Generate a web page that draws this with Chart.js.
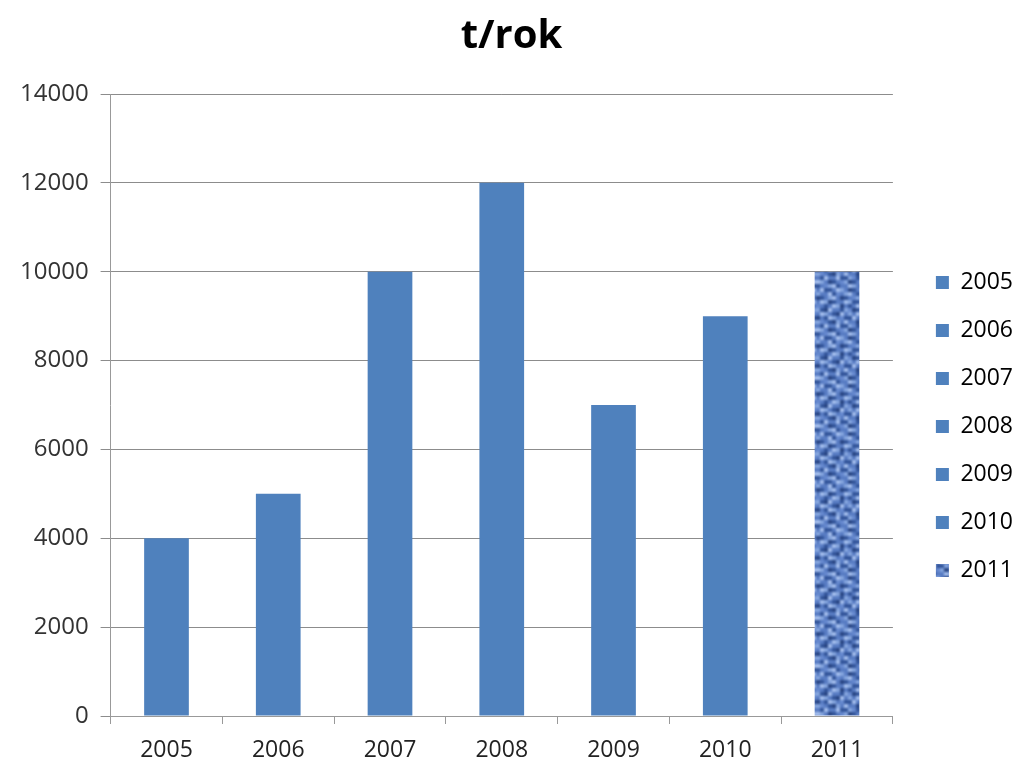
<!DOCTYPE html>
<html>
<head>
<meta charset="utf-8">
<script src="https://cdn.jsdelivr.net/npm/chart.js@4/dist/chart.umd.min.js"></script>
<style>
  html, body { margin: 0; padding: 0; background: #ffffff; }
  #wrap { width: 1015px; height: 761px; }
</style>
</head>
<body>
<div id="wrap"><canvas id="c" width="1015" height="761"></canvas></div>
<script>
// Annual quantity in tonnes per year
const years = ['2005', '2006', '2007', '2008', '2009', '2010', '2011'];
const tonnes = [4000, 5000, 10000, 12000, 7000, 9000, 10000];
const yTicks = [0, 2000, 4000, 6000, 8000, 10000, 12000, 14000];

const BAR_BLUE = '#4f81bd';

// Woven, slightly soft texture used for the last year's bar
function makeWeave() {
  const rows = [
    'mLddmLlmDdmL',
    'lmmLdMmlLmdM',
    'DdmlLmDdmMlm',
    'mLlDdmmLlddL',
    'MmdmLlDmdmLm',
    'ldDLmmdlMDdl',
    'mLlmdDLmlmLM',
    'DmdLlmMddLmd',
    'lMmdDlmLmmDl',
    'mdLmmLddlMdm',
    'LlmDdmMlDdmL',
    'dmMlLdmmLlmd'
  ];
  const shade = { d: '#33559a', D: '#294684', m: '#587cc3', M: '#6689cf', l: '#85a5de', L: '#a3bdec' };
  const cell = 4;
  const w = rows[0].length * cell, h = rows.length * cell;
  const raw = document.createElement('canvas');
  raw.width = w; raw.height = h;
  const r = raw.getContext('2d');
  rows.forEach((row, y) => {
    [...row].forEach((ch, x) => {
      r.fillStyle = shade[ch];
      r.fillRect(x * cell, y * cell, cell, cell);
    });
  });
  // repeat 3x3, blur, and keep the centre so the tile edges wrap smoothly
  const rep = document.createElement('canvas');
  rep.width = w * 3; rep.height = h * 3;
  const rp = rep.getContext('2d');
  for (let i = 0; i < 3; i++) for (let j = 0; j < 3; j++) rp.drawImage(raw, i * w, j * h);
  const big = document.createElement('canvas');
  big.width = w * 3; big.height = h * 3;
  const b = big.getContext('2d');
  b.filter = 'blur(1px)';
  b.drawImage(rep, 0, 0);
  const tile = document.createElement('canvas');
  tile.width = w; tile.height = h;
  tile.getContext('2d').drawImage(big, w, h, w, h, 0, 0, w, h);
  return document.getElementById('c').getContext('2d').createPattern(tile, 'repeat');
}
const weave = makeWeave();
const barColors = years.map((y, i) => i === years.length - 1 ? weave : BAR_BLUE);

const FONT = "'Open Sans', 'Liberation Sans', sans-serif";

// Gives the legend a wider column and places its items right of the plot
const legendPlace = {
  id: 'legendPlace',
  beforeLayout(chart) {
    const lg = chart.legend;
    if (lg && !lg._widened) {
      const fit = lg.fit.bind(lg);
      lg.fit = function () { fit(); this.width += 10; };
      lg._widened = true;
    }
  },
  afterLayout(chart) {
    const lg = chart.legend;
    if (!lg) return;
    const dx = 18, dy = 46;
    lg.left += dx; lg.right += dx;
    lg.top += dy; lg.bottom += dy;
  }
};

new Chart(document.getElementById('c'), {
  type: 'bar',
  data: {
    labels: years,
    datasets: [{
      label: 't/rok',
      data: tonnes,
      backgroundColor: barColors,
      borderWidth: 0,
      barPercentage: 0.4,
      categoryPercentage: 1.0
    }]
  },
  options: {
    responsive: false,
    animation: false,
    layout: { padding: { left: 8, right: 0, top: 0, bottom: 0 } },
    plugins: {
      title: {
        display: true,
        text: 't/rok',
        color: '#000000',
        font: { family: FONT, size: 40, weight: 'bold' },
        padding: { top: 13, bottom: 33 }
      },
      legend: {
        display: true,
        position: 'right',
        labels: {
          color: '#222222',
          font: { family: FONT, size: 23 },
          boxWidth: 13,
          boxHeight: 13,
          padding: 25,
          generateLabels(chart) {
            return years.map((y, i) => ({
              text: y,
              fillStyle: barColors[i],
              strokeStyle: barColors[i],
              lineWidth: 0,
              hidden: false,
              index: i
            }));
          }
        },
        onClick: () => {}
      },
      tooltip: { enabled: true }
    },
    scales: {
      x: {
        afterFit(scale) { scale.height = 45; },
        grid: {
          display: true,
          drawOnChartArea: false,
          drawTicks: true,
          tickLength: 8,
          color: '#999999'
        },
        border: { display: true, color: '#999999', width: 1 },
        ticks: {
          color: '#222222',
          font: { family: FONT, size: 23, lineHeight: 1.1 },
          padding: 14
        }
      },
      y: {
        min: 0,
        max: 14000,
        afterBuildTicks(axis) { axis.ticks = yTicks.map(v => ({ value: v })); },
        grid: {
          color: '#8c8c8c',
          lineWidth: 1,
          drawTicks: true,
          tickLength: 10
        },
        border: { display: true, color: '#999999', width: 1 },
        ticks: {
          color: '#333333',
          font: { family: FONT, size: 24 },
          padding: 12,
          callback: v => String(v)
        }
      }
    }
  },
  plugins: [legendPlace]
});
</script>
</body>
</html>
